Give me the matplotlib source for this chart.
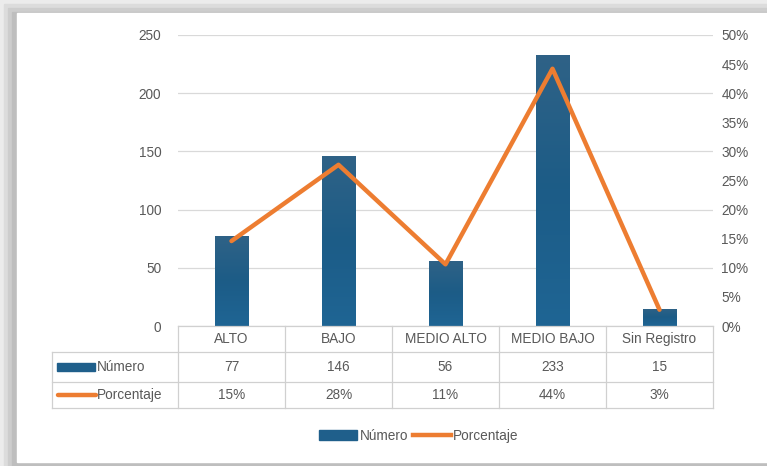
import matplotlib
matplotlib.use("Agg")
import matplotlib.pyplot as plt
import numpy as np
from matplotlib.colors import LinearSegmentedColormap
from matplotlib.lines import Line2D
from matplotlib.patches import Patch, Rectangle

# --- Data ---
categorias = ["ALTO", "BAJO", "MEDIO ALTO", "MEDIO BAJO", "Sin Registro"]
numero = [77, 146, 56, 233, 15]
porcentaje = [0.146, 0.277, 0.106, 0.442, 0.028]
porcentaje_txt = ["15%", "28%", "11%", "44%", "3%"]
serie_num = "Número"
serie_pct = "Porcentaje"

BLUE = "#1f5f8b"
ORANGE = "#ED7D31"
GRID = "#d9d9d9"
TXT = "#595959"
FS = 9.8

plt.rcParams["font.family"] = ["Liberation Sans", "DejaVu Sans"]

W, H = 767, 466
fig = plt.figure(figsize=(W / 100, H / 100), dpi=100)
fig.patch.set_facecolor("#ececec")


def fx(x):
    return x / W


def fy(y):
    return 1 - y / H


# card with a soft shadow (a few grey layers)
for off, col in [(4, "#dcdcdc"), (8, "#cdcdcd"), (12, "#bebebe")]:
    fig.patches.append(Rectangle((fx(off), 0), 1, fy(off),
                                 transform=fig.transFigure, color=col, zorder=-3))
fig.patches.append(Rectangle((fx(17), fy(462)), 1, (462 - 13) / H,
                             transform=fig.transFigure, color="white", zorder=-2))

# plot area
L, R, T, B = 178, 713, 35, 326
ax = fig.add_axes([fx(L), fy(B), fx(R - L), (B - T) / H])
ax.set_facecolor("none")
n = len(categorias)
x = np.arange(n)
ax.set_yticks(range(0, 251, 50))
ax.yaxis.grid(True, color=GRID, lw=0.9)
ax.set_axisbelow(True)
ax.set_xticks([])
for s in ax.spines.values():
    s.set_visible(False)
ax.tick_params(axis="y", length=0, pad=12, labelsize=FS, labelcolor=TXT)

cmap = LinearSegmentedColormap.from_list("bar", ["#1f6594", "#1c5c87", "#2f6286"])
grad = np.linspace(0, 1, 100).reshape(-1, 1)
bars = ax.bar(x, numero, width=0.31, color=BLUE, zorder=2)
for b in bars:
    im = ax.imshow(grad, cmap=cmap, aspect="auto", zorder=3, origin="lower",
                   extent=[b.get_x(), b.get_x() + b.get_width(), 0, b.get_height()])
    im.set_clip_path(b)
ax.set_xlim(-0.5, n - 0.5)
ax.set_ylim(0, 250)

ax2 = ax.twinx()
ax2.set_ylim(0, 0.5)
pct_ticks = np.arange(0, 0.501, 0.05)
ax2.set_yticks(pct_ticks)
ax2.set_yticklabels([f"{int(round(v * 100))}%" for v in pct_ticks])
ax2.tick_params(axis="y", length=0, pad=6, labelsize=FS, labelcolor=TXT)
for s in ax2.spines.values():
    s.set_visible(False)
ax2.plot(x, porcentaje, color=ORANGE, lw=3.2, solid_joinstyle="round",
         solid_capstyle="round", zorder=4)

# data table under the chart
col_w = (R - L) / n
rows_y = [326, 352, 382, 408]
LBL = 52
line_kw = dict(color="#d0d0d0", lw=0.9, transform=fig.transFigure)
fig.add_artist(Line2D([fx(L), fx(R)], [fy(rows_y[0])] * 2, **line_kw))
for yy in rows_y[1:]:
    fig.add_artist(Line2D([fx(LBL), fx(R)], [fy(yy)] * 2, **line_kw))
fig.add_artist(Line2D([fx(LBL)] * 2, [fy(rows_y[1]), fy(rows_y[3])], **line_kw))
for i in range(n + 1):
    xx = L + i * col_w
    fig.add_artist(Line2D([fx(xx)] * 2, [fy(rows_y[0]), fy(rows_y[3])], **line_kw))

row_text = [categorias, [str(v) for v in numero], porcentaje_txt]
for r, vals in enumerate(row_text):
    yc = (rows_y[r] + rows_y[r + 1]) / 2
    for i, v in enumerate(vals):
        fig.text(fx(L + (i + 0.5) * col_w), fy(yc), v, ha="center", va="center",
                 fontsize=FS, color=TXT)

# row labels with legend keys
yc1 = (rows_y[1] + rows_y[2]) / 2
yc2 = (rows_y[2] + rows_y[3]) / 2
fig.patches.append(Rectangle((fx(57), fy(yc1 + 4)), fx(38), 8 / H,
                             transform=fig.transFigure, color=BLUE))
fig.text(fx(97), fy(yc1), serie_num, ha="left", va="center", fontsize=FS, color=TXT)
fig.add_artist(Line2D([fx(58), fx(96)], [fy(yc2)] * 2, color=ORANGE, lw=3.2,
                      solid_capstyle="round", transform=fig.transFigure))
fig.text(fx(97), fy(yc2), serie_pct, ha="left", va="center", fontsize=FS, color=TXT)

# legend
handles = [Patch(color=BLUE, label=serie_num),
           Line2D([], [], color=ORANGE, lw=3.2, label=serie_pct)]
leg = fig.legend(handles=handles, loc="center", bbox_to_anchor=(fx(419), fy(436)),
                 ncol=2, frameon=False, fontsize=FS, handlelength=2.8,
                 handletextpad=0.2, columnspacing=0.3, labelcolor=TXT)

fig.savefig("out.png", dpi=100, facecolor=fig.get_facecolor())
